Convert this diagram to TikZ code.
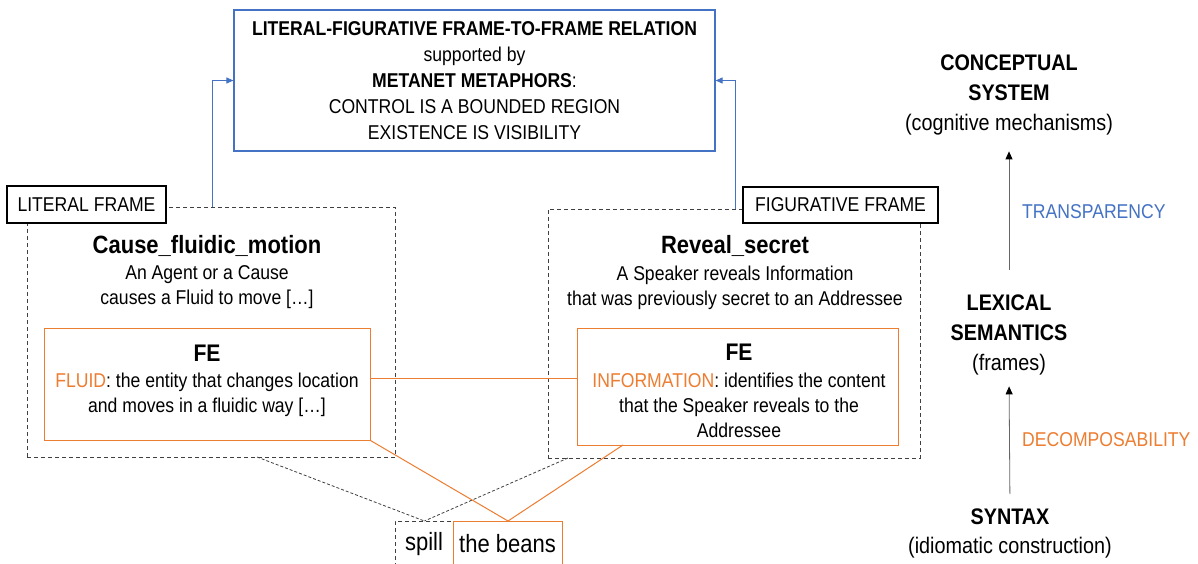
\documentclass[tikz,border=0pt]{standalone}
\usepackage{fontspec}
\setmainfont{Liberation Sans}[FakeStretch=0.88]
\usetikzlibrary{arrows.meta}
\definecolor{oblue}{HTML}{4472C4}
\definecolor{oorange}{HTML}{ED7D31}
\definecolor{dgray}{HTML}{404040}
\begin{document}
\begin{tikzpicture}[x=1pt,y=-1pt,
  reg/.style={font=\fontsize{20}{25}\selectfont, align=center, inner sep=0pt},
  ttl/.style={font=\fontsize{25}{30}\selectfont\bfseries, inner sep=0pt},
  fetitle/.style={font=\fontsize{24}{28}\selectfont\bfseries, inner sep=0pt},
  rcol/.style={font=\fontsize{22.5}{30}\selectfont, align=center, inner sep=0pt},
  framebox/.style={rectangle, inner sep=0pt, draw=dgray, line width=0.8pt, dash pattern=on 4pt off 3pt},
  labelbox/.style={rectangle, inner sep=0pt, draw=black, line width=1.2pt, fill=white, font=\fontsize{20}{25}\selectfont},
  febox/.style={rectangle, inner sep=0pt, draw=oorange, line width=1pt, fill=white},
  bluearrow/.style={draw=oblue, line width=1pt, -{Triangle[length=7pt,width=6pt]}},
  grayarrow/.style={draw=dgray!80, line width=0.8pt, -{Triangle[length=8pt,width=7pt,color=black,fill=black]}},
  dashline/.style={draw=dgray, line width=0.8pt, dash pattern=on 3pt off 2pt},
  oline/.style={draw=oorange, line width=1pt}
]
\useasboundingbox (0,0) rectangle (1198,564);
\fill[white] (0,0) rectangle (1198,564);

% top relation box
\node[rectangle, draw=oblue, line width=1.2pt, minimum width=481pt, minimum height=141pt,
      font=\fontsize{20}{26}\selectfont, align=center, inner sep=0pt] (top) at (474.5,80.5)
  {\textbf{LITERAL-FIGURATIVE FRAME-TO-FRAME RELATION}\\supported by\\\textbf{METANET METAPHORS}:\\CONTROL IS A BOUNDED REGION\\EXISTENCE IS VISIBILITY};

% frames
\node[framebox, minimum width=368pt, minimum height=250pt] (litframe) at (211,332) {};
\node[framebox, minimum width=372pt, minimum height=249pt] (figframe) at (734,333.5) {};

% blue arrows
\coordinate (la) at (212,207);
\coordinate (ra) at (735,209);
\draw[bluearrow] (la) |- (top.west);
\draw[bluearrow] (ra) |- (top.east);

% labels
\node[labelbox, minimum width=159pt, minimum height=37pt] (litlabel) at (86.5,204.5) {LITERAL FRAME};
\node[labelbox, minimum width=195pt, minimum height=36pt] (figlabel) at (840.5,205) {FIGURATIVE FRAME};

% frame texts
\node[ttl] (littitle) at (207,246) {Cause\_fluidic\_motion};
\node[reg] (litdesc) at (207,287.5) {An Agent or a Cause\\causes a Fluid to move […]};
\node[ttl] (figtitle) at (735,246) {Reveal\_secret};
\node[reg] (figdesc) at (735,287.5) {A Speaker reveals Information\\that was previously secret to an Addressee};

% FE boxes
\node[febox, minimum width=326pt, minimum height=112pt] (litfe) at (207,384) {};
\node[febox, minimum width=321pt, minimum height=117pt] (figfe) at (737.5,386.5) {};
\node[fetitle] (litfetitle) at (207,353) {FE};
\node[reg] (litfetext) at (207,394.5) {{\color{oorange}FLUID}: the entity that changes location\\and moves in a fluidic way […]};
\node[fetitle] (figfetitle) at (739,352) {FE};
\node[reg] (figfetext) at (739,405) {{\color{oorange}INFORMATION}: identifies the content\\that the Speaker reveals to the\\Addressee};

% FE link
\coordinate (mid) at (0,378);
\draw[oline] (litfe.east |- mid) -- (figfe.west |- mid);

% bottom words
\node[framebox, anchor=north west, minimum width=58pt, minimum height=80pt] (spill) at (395,521) {};
\node[rectangle, draw=oorange, line width=1pt, fill=white, inner sep=0pt, anchor=north west, minimum width=109pt, minimum height=80pt] (beans) at (453,521) {};
\node[font=\fontsize{25}{30}\selectfont, inner sep=0pt] (spilltxt) at (424,544) {spill};
\node[font=\fontsize{25}{30}\selectfont, inner sep=0pt] (beanstxt) at (507.5,544) {the beans};

\coordinate (lb) at (257,457);
\coordinate (rb) at (568,458);
\coordinate (rfeb) at (623,445);
\draw[dashline] (lb) -- (spill.north);
\draw[dashline] (rb) -- (spill.north);
\draw[oline] (litfe.south east) -- (beans.north);
\draw[oline] (rfeb) -- (beans.north);

% right column
\node[rcol] (con) at (1009,95) {\textbf{CONCEPTUAL}\\\textbf{SYSTEM}\\(cognitive mechanisms)};
\node[rcol] (lex) at (1009,335) {\textbf{LEXICAL}\\\textbf{SEMANTICS}\\(frames)};
\node[rcol, font=\fontsize{22.5}{29}\selectfont] (syn) at (1010,533) {\textbf{SYNTAX}\\(idiomatic construction)};
\draw[grayarrow, shorten <=25pt, shorten >=16pt] (lex.north) -- (con.south);
\draw[grayarrow, shorten <=14pt, shorten >=11pt] (syn.north) -- (lex.south);
\node[font=\fontsize{20}{25}\selectfont, inner sep=0pt, anchor=west, text=oblue] (transp) at (1022,212) {TRANSPARENCY};
\node[font=\fontsize{20}{25}\selectfont, inner sep=0pt, anchor=west, text=oorange] (decomp) at (1022,440) {DECOMPOSABILITY};
\end{tikzpicture}
\end{document}
